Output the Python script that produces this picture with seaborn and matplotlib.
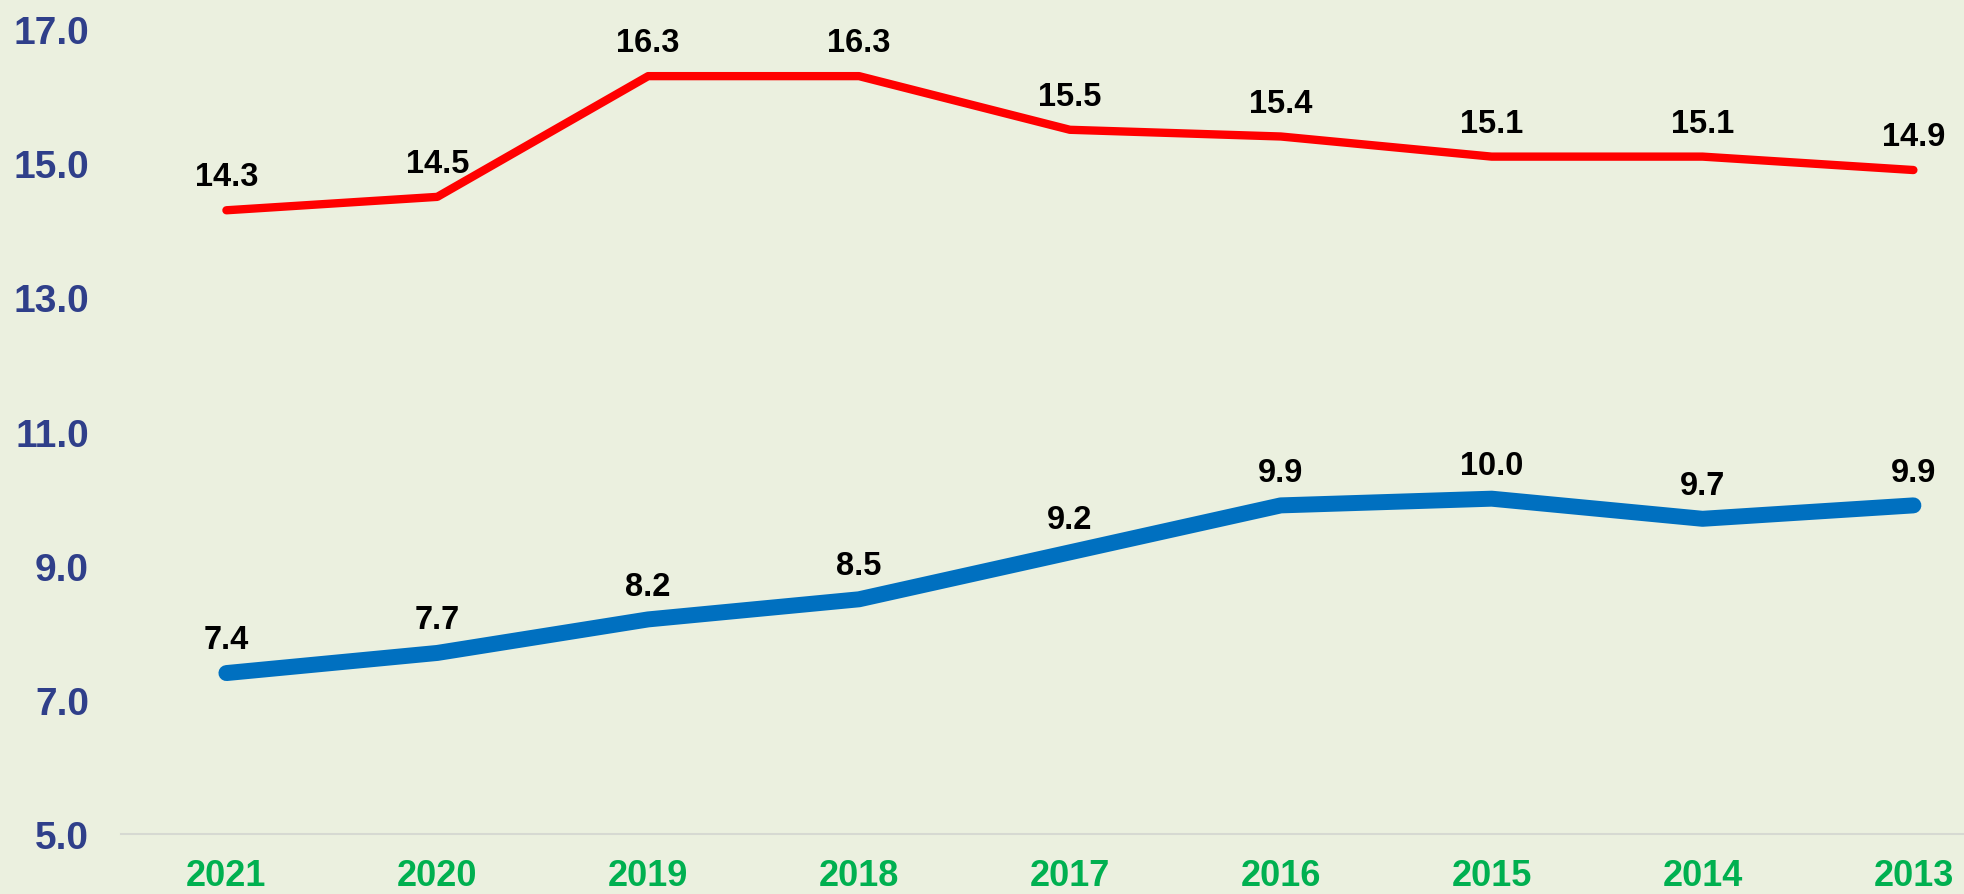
import numpy as np
import pandas as pd
import matplotlib
matplotlib.use('Agg')
import matplotlib.pyplot as plt
import seaborn as sns

# -----------------------

years = ['2021', '2020', '2019', '2018', '2017', '2016', '2015', '2014', '2013']
red_vals = [14.3, 14.5, 16.3, 16.3, 15.5, 15.4, 15.1, 15.1, 14.9]
blue_vals = [7.4, 7.7, 8.2, 8.5, 9.2, 9.9, 10.0, 9.7, 9.9]
yticks = [5.0, 7.0, 9.0, 11.0, 13.0, 15.0, 17.0]

bg = '#EBF0DF'

# -----------------------

sns.set_style('white')
plt.rcParams['font.family'] = ['Liberation Sans', 'DejaVu Sans']

df = pd.DataFrame({
	'pos': list(range(len(years))) * 2,
	'year': years * 2,
	'value': red_vals + blue_vals,
	'series': ['red'] * len(years) + ['blue'] * len(years),
})

fig = plt.figure(figsize=(19.64, 8.95), dpi=100, facecolor=bg)
ax = fig.add_axes([0.0616, 0.067, 0.9384, 0.933])
ax.set_facecolor(bg)

styles = {'red': ('#FF0000', 6.0), 'blue': ('#0070C0', 11.5)}

for name, (color, lw) in styles.items():
	sub = df[df['series'] == name]
	sns.lineplot(data=sub, x='pos', y='value', color=color, lw=lw,
		sort=False, ax=ax, solid_capstyle='round', solid_joinstyle='round')
	for _, row in sub.iterrows():
		ax.annotate('%.1f' % row['value'], (row['pos'], row['value']),
			xytext=(0, 24), textcoords='offset points', ha='center', va='center',
			fontsize=23.5, fontweight='bold', color='black')

ax.set_xlim(-0.5, 8.24)
ax.set_ylim(5.0, 17.45)
ax.set_xticks(range(len(years)))
ax.set_xticklabels(years)
ax.set_yticks(yticks)
ax.set_yticklabels(['%.1f' % t for t in yticks])
ax.set(xlabel='', ylabel='')

ax.tick_params(axis='x', length=0, pad=17, labelsize=26, labelcolor='#00B050')
ax.tick_params(axis='y', length=0, pad=23, labelsize=28, labelcolor='#2F3F8A')
for lab in ax.get_xticklabels() + ax.get_yticklabels():
	lab.set_fontweight('bold')

for s in ['top', 'right', 'left']:
	ax.spines[s].set_visible(False)
ax.spines['bottom'].set_color('#D6D9D2')
ax.spines['bottom'].set_linewidth(1.5)

fig.savefig('out.png', dpi=100, facecolor=bg)
